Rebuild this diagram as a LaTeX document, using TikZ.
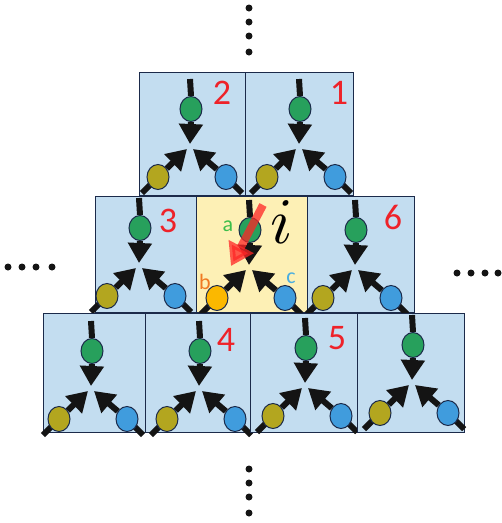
\documentclass[tikz,border=0pt]{standalone}
\usepackage{fontspec}
\usepackage{graphicx}
\setmainfont{Carlito}
\usetikzlibrary{arrows.meta,shapes.geometric}
\definecolor{boxblue}{HTML}{C3DDF0}
\definecolor{boxyellow}{HTML}{FDF0B5}
\definecolor{edge}{HTML}{1B2A4A}
\definecolor{gnode}{HTML}{27A05C}
\definecolor{onode}{HTML}{B3A61F}
\definecolor{bnode}{HTML}{409CDD}
\definecolor{ynode}{HTML}{FBB800}
\definecolor{numred}{HTML}{EE2229}
\definecolor{arrowblk}{HTML}{141414}
\definecolor{labg}{HTML}{3DBE4A}
\definecolor{labo}{HTML}{F07A22}
\definecolor{labb}{HTML}{4AAEE0}
\tikzset{
  cellbox/.style={draw=edge, line width=1.3pt, inner sep=0pt, anchor=north west},
  ball/.style={ellipse, draw=edge, line width=1pt, minimum width=22pt, minimum height=25pt, inner sep=0pt},
  shaft/.style={draw=arrowblk, line width=6pt},
  bigarrow/.style={shaft, -{Triangle[width=23pt,length=20pt]}},
  num/.style={text=numred, font=\fontsize{36}{36}\selectfont, inner sep=0pt},
  lab/.style={font=\fontsize{22}{22}\selectfont, inner sep=0pt},
  dotmark/.style={circle, fill=arrowblk, minimum size=7pt, inner sep=0pt},
}
% #1 name, #2 x, #3 y, #4 width, #5 height, #6 fill
\newcommand\mkcell[6]{%
  \node[cellbox, fill=#6, minimum width=#4pt, minimum height=#5pt] (#1) at (#2,#3) {};}
% #1 name, #2 x, #3 y of the meeting point, #4 left ball colour
\newcommand\mkglyph[4]{%
  \begin{scope}[shift={(#2,#3)}]
    \coordinate (#1-top) at (0,-68);
    \coordinate (#1-tip) at (0,-3);
    \coordinate (#1-ltip) at (-3,2);
    \coordinate (#1-rtip) at (3,2);
    \coordinate (#1-lend) at (-46,44);
    \coordinate (#1-rend) at (50,44);
    \node[ball, fill=gnode] (#1-g) at (1,-38) {};
    \draw[shaft] (#1-top) -- (#1-g.north);
    \draw[bigarrow] (#1-g.south) -- (#1-tip);
    \draw[shaft, line cap=rect] (#1-lend) -- (-32,30);
    \draw[shaft, line cap=rect] (#1-rend) -- (36,30);
    \node[ball, fill=#4] (#1-l) at (-32,30) {};
    \node[ball, fill=bnode] (#1-r) at (36,30) {};
    \draw[bigarrow] (#1-l) -- (#1-ltip);
    \draw[bigarrow] (#1-r) -- (#1-rtip);
  \end{scope}}
\begin{document}
\begin{tikzpicture}[x=1pt,y=-1pt]
\useasboundingbox (0,0) rectangle (502,523);
% top row
\mkcell{c2}{139}{72}{106}{123}{boxblue}
\mkglyph{g2}{190}{147}{onode}
\mkcell{c1}{245}{72}{108}{123}{boxblue}
\mkglyph{g1}{299}{147}{onode}
% middle row
\mkcell{c3}{95}{196}{101}{116}{boxblue}
\mkglyph{g3}{139}{266}{onode}
\mkcell{ci}{196}{196}{111}{116}{boxyellow}
\mkglyph{gi}{249}{268}{ynode}
\mkcell{c6}{307}{196}{107}{116}{boxblue}
\mkglyph{g6}{355}{268}{onode}
% bottom row
\mkcell{ca}{43}{313}{102}{119}{boxblue}
\mkglyph{ga}{91}{389}{onode}
\mkcell{c4}{145}{313}{105}{119}{boxblue}
\mkglyph{g4}{199}{389}{onode}
\mkcell{c5}{250}{313}{107}{119}{boxblue}
\mkglyph{g5}{305}{386}{onode}
\mkcell{cb}{357}{313}{107}{119}{boxblue}
\mkglyph{gb}{412}{383}{onode}
% numbers
\node[num] (n2) at (222,93) {2};
\node[num] (n1) at (339,93) {1};
\node[num] (n3) at (168,221) {3};
\node[num] (n6) at (393,217) {6};
\node[num] (n4) at (226,340) {4};
\node[num] (n5) at (337,338) {5};
% labels in the central cell
\node[lab, text=labg] (la) at (228,226) {a};
\node[lab, text=labo] (lb) at (205,282) {b};
\node[lab, text=labb] (lc) at (291,278) {c};
\node[inner sep=0pt, anchor=base] (li) at (282,243) {\scalebox{6.5}{$i$}};
% red arrow
\coordinate (rs) at (263,205);
\coordinate (rt) at (231,266);
\draw[draw=red!85!white, opacity=0.75, line width=8pt, -{Triangle[width=27pt,length=22pt]}] (rs) -- (rt);
% dots
\foreach \k/\yy in {1/8,2/22,3/36,4/52}{\node[dotmark] (dt\k) at (249,\yy) {};}
\foreach \k/\yy in {1/469,2/483,3/497,4/513}{\node[dotmark] (db\k) at (249,\yy) {};}
\foreach \k/\xx in {1/8,2/22,3/36,4/52}{\node[dotmark] (dl\k) at (\xx,267) {};}
\foreach \k/\xx in {1/457,2/471,3/485,4/498}{\node[dotmark] (dr\k) at (\xx,273) {};}
\end{tikzpicture}
\end{document}
